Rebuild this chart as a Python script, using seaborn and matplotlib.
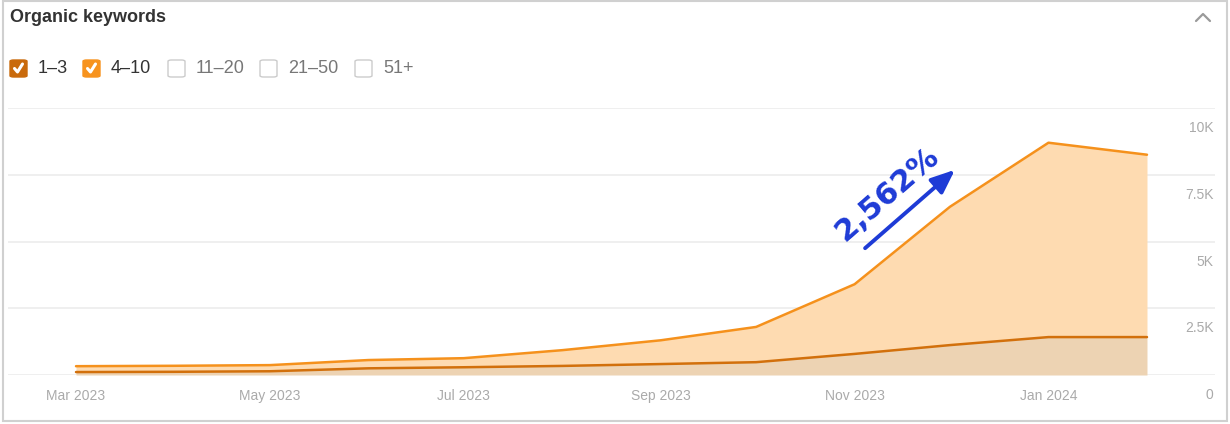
import numpy as np
import pandas as pd
import matplotlib
import matplotlib.pyplot as plt
import matplotlib.dates as mdates
from matplotlib.patches import FancyBboxPatch, Rectangle
from matplotlib.lines import Line2D
import seaborn as sns

matplotlib.use("Agg")

# data (monthly, Mar 2023 - Feb 2024)
months = pd.date_range("2023-03-01", periods=12, freq="MS")
pos_1_3 = [110, 120, 140, 250, 290, 340, 410, 480, 790, 1120, 1420, 1420]
pos_4_10 = [220, 225, 230, 310, 340, 590, 890, 1320, 2610, 5180, 7280, 6830]
y_ticks = [0, 2500, 5000, 7500, 10000]
y_tick_labels = ["0", "2.5K", "5K", "7.5K", "10K"]
legend_labels = ["1–3", "4–10", "11–20", "21–50", "51+"]
legend_checked = [True, True, False, False, False]
growth_label = "2,562%"

sns.set_theme(style="white")
plt.rcParams["font.family"] = ["Liberation Sans", "DejaVu Sans"]

W, H = 1230, 424
fig = plt.figure(figsize=(W / 100, H / 100), dpi=100)


def px(x, y):
    return x / W, 1 - y / H


ax = fig.add_axes([8 / W, 49 / H, 1207 / W, 267 / H])

top = np.array(pos_1_3) + np.array(pos_4_10)
df = pd.DataFrame({
    "month": list(months) * 2,
    "value": list(pos_1_3) + list(top),
    "range": ["1–3"] * 12 + ["4–10"] * 12,
})

ax.fill_between(months, 0, pos_1_3, color="#edd3b3", lw=0, zorder=1)
ax.fill_between(months, pos_1_3, top, color="#fedbb1", lw=0, zorder=1)
sns.lineplot(data=df, x="month", y="value", hue="range",
             palette={"1–3": "#d2700c", "4–10": "#f5911c"},
             linewidth=1.8, legend=False, ax=ax, zorder=3)

ax.set_xlim(months[0] - pd.Timedelta(days=21.4), months[-1] + pd.Timedelta(days=21.4))
ax.set_ylim(0, 10000)
ax.set_xlabel("")
ax.set_ylabel("")
for s in ax.spines.values():
    s.set_visible(False)

ax.set_yticks(y_ticks)
ax.yaxis.grid(True, color="#efefef", lw=1.4)
ax.tick_params(axis="y", left=False, labelleft=False)
ax.set_axisbelow(True)
for v, lbl in zip(y_ticks, y_tick_labels):
    ax.annotate(lbl, xy=(1, v), xycoords=("axes fraction", "data"),
                xytext=(-1, -14.5), textcoords="offset points",
                ha="right", va="center", fontsize=10, color="#aaaaaa")

ax.xaxis.set_major_locator(mdates.MonthLocator(bymonth=[1, 3, 5, 7, 9, 11]))
ax.xaxis.set_major_formatter(mdates.DateFormatter("%b %Y"))
ax.tick_params(axis="x", length=0, pad=10, labelsize=10, labelcolor="#aaaaaa")

# growth annotation
ax.annotate("", xy=px(957, 168), xycoords="figure fraction",
            xytext=px(863, 250), textcoords="figure fraction",
            arrowprops=dict(arrowstyle="-|>,head_length=1.2,head_width=0.5",
                            color="#1e3bd6", lw=2.8))
fig.text(*px(887, 194), growth_label, rotation=41, ha="center", va="center",
         fontsize=22, fontweight="bold", color="#1e3bd6",
         family=["DejaVu Sans"], rotation_mode="anchor")

# card, title and legend
fig.patches.append(Rectangle(px(3, 421), 1224 / W, 420 / H, transform=fig.transFigure,
                             fill=False, edgecolor="#d0d0d0", lw=1.5))
fig.text(*px(10, 17), "Organic keywords", ha="left", va="center",
         fontsize=13, fontweight="bold", color="#333333")
fig.lines.append(Line2D([1196 / W, 1203 / W, 1210 / W], [1 - 21 / H, 1 - 14 / H, 1 - 21 / H],
                        transform=fig.transFigure, color="#9a9a9a", lw=1.6))

box_x = [10, 83, 168, 260, 355]
box_colors = ["#c96a0c", "#f7931e"]
for i, (bx, lbl, on) in enumerate(zip(box_x, legend_labels, legend_checked)):
    x0, y0 = px(bx, 77)
    fig.patches.append(FancyBboxPatch((x0, y0), 17 / W, 17 / H,
                                      boxstyle="round,pad=0,rounding_size=0.003",
                                      transform=fig.transFigure,
                                      facecolor=box_colors[i] if on else "white",
                                      edgecolor=box_colors[i] if on else "#cccccc", lw=1))
    if on:
        fig.lines.append(Line2D([(bx + 4.5) / W, (bx + 7.5) / W, (bx + 12.5) / W],
                                [1 - 68.5 / H, 1 - 72 / H, 1 - 64 / H],
                                transform=fig.transFigure, color="white", lw=2.2,
                                solid_capstyle="round", solid_joinstyle="round"))
    fig.text(*px(bx + 28, 68.5), lbl, ha="left", va="center", fontsize=13,
             color="#333333" if on else "#777777")

fig.savefig("out.png", dpi=100)
